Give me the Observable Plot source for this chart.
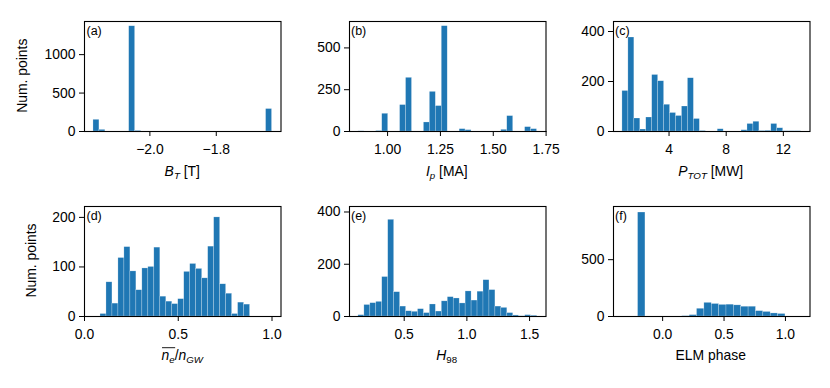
<!DOCTYPE html>
<html>
<head>
<meta charset="utf-8">
<script src="https://cdn.jsdelivr.net/npm/d3@7"></script>
<script src="https://cdn.jsdelivr.net/npm/@observablehq/plot@0.6"></script>
<style>
html, body { margin: 0; padding: 0; background: #fff; }
#chart { position: relative; width: 830px; height: 388px; overflow: hidden; background: #fff; }
#chart svg.plotpanel { position: absolute; }
#overlay { position: absolute; left: 0; top: 0; pointer-events: none; }
</style>
</head>
<body>
<div id="chart"></div>
<script>
// ---------------- DATA ----------------
// (a) toroidal field B_T [T] — 30 bins
const btRange = [-2.170, -1.632];
const btCounts = [152, 21, 0, 0, 0, 0, 1369, 8, 0, 0, 0, 0, 0, 0, 0, 0, 0, 0, 0, 0, 0, 0, 0, 0, 0, 0, 0, 0, 0, 292];
const btXDomain = [-2.197, -1.605];
const btYMax = 1431;
const btXTicks = [-2.0, -1.8];
const btYTicks = [0, 500, 1000];

// (b) plasma current I_p [MA] — 30 bins
const ipRange = [0.862, 1.707];
const ipCounts = [1, 0, 0, 3, 106, 0, 0, 158, 321, 0, 0, 54, 237, 152, 630, 0, 0, 14, 8, 0, 0, 0, 0, 0, 10, 92, 0, 0, 26, 14];
const ipXDomain = [0.8198, 1.7495];
const ipYMax = 658;
const ipXTicks = [1.00, 1.25, 1.50, 1.75];
const ipYTicks = [0, 250, 500];

// (c) total power P_TOT [MW] — 30 bins
const ptRange = [0.738, 13.24];
const ptCounts = [162, 376, 52, 8, 56, 226, 201, 107, 74, 62, 100, 213, 50, 2, 0, 0, 9, 0, 0, 0, 5, 30, 39, 2, 3, 30, 13, 1, 1, 1];
const ptXDomain = [0.113, 13.865];
const ptYMax = 440;
const ptXTicks = [4, 8, 12];
const ptYTicks = [0, 200, 400];

// (d) Greenwald fraction — 25 bins
const ngRange = [0.0852, 0.883];
const ngCounts = [5, 69, 26, 118, 140, 91, 53, 97, 100, 139, 40, 30, 25, 35, 90, 106, 96, 77, 141, 200, 65, 46, 5, 28, 24];
const ngXDomain = [0, 1.048];
const ngYMax = 222;
const ngXTicks = [0.0, 0.5, 1.0];
const ngYTicks = [0, 100, 200];

// (e) H98 — 30 bins
const hRange = [0.135, 1.560];
const hCounts = [5, 44, 51, 56, 151, 370, 93, 38, 20, 18, 28, 13, 46, 19, 58, 74, 69, 50, 96, 61, 95, 139, 101, 38, 33, 13, 4, 1, 5, 3];
const hXDomain = [0.0638, 1.631];
const hYMax = 421;
const hXTicks = [0.5, 1.0, 1.5];
const hYTicks = [0, 200, 400];

// (f) ELM phase — 20 bins
const elmRange = [-0.2, 1.0];
const elmCounts = [915, 0, 0, 0, 0, 0, 3, 12, 68, 120, 110, 102, 104, 98, 86, 86, 47, 40, 27, 22];
const elmXDomain = [-0.4, 1.2];
const elmYMax = 968;
const elmXTicks = [0.0, 0.5, 1.0];
const elmYTicks = [0, 500];

const panelLetters = ["(a)", "(b)", "(c)", "(d)", "(e)", "(f)"];
const yAxisLabel = "Num. points";

// ---------------- LAYOUT ----------------
const FONT = '"Liberation Sans", Arial, Helvetica, sans-serif';
const FS = 13.9;
const COLS = [84, 348.5, 612.5];
const ROWS = [20.7, 205.5];
const FW = 196.5, FH = 110;
const ML = 60, MR = 12, MT = 10, MB = 40;
const BLUE = "#1f77b4";

function toBins(range, counts) {
  const n = counts.length;
  const w = (range[1] - range[0]) / n;
  return counts.map((c, i) => ({x1: range[0] + i * w, x2: range[0] + (i + 1) * w, y: c}))
               .filter(d => d.y > 0);
}

const panels = [
  {range: btRange, counts: btCounts, xd: btXDomain, ymax: btYMax, xt: btXTicks, yt: btYTicks, xf: ".1f", col: 0, row: 0},
  {range: ipRange, counts: ipCounts, xd: ipXDomain, ymax: ipYMax, xt: ipXTicks, yt: ipYTicks, xf: ".2f", col: 1, row: 0},
  {range: ptRange, counts: ptCounts, xd: ptXDomain, ymax: ptYMax, xt: ptXTicks, yt: ptYTicks, xf: "d", col: 2, row: 0},
  {range: ngRange, counts: ngCounts, xd: ngXDomain, ymax: ngYMax, xt: ngXTicks, yt: ngYTicks, xf: ".1f", col: 0, row: 1},
  {range: hRange, counts: hCounts, xd: hXDomain, ymax: hYMax, xt: hXTicks, yt: hYTicks, xf: ".1f", col: 1, row: 1},
  {range: elmRange, counts: elmCounts, xd: elmXDomain, ymax: elmYMax, xt: elmXTicks, yt: elmYTicks, xf: ".1f", col: 2, row: 1}
];

const chart = document.getElementById("chart");

panels.forEach(p => {
  const svg = Plot.plot({
    width: ML + FW + MR,
    height: MT + FH + MB,
    marginLeft: ML, marginRight: MR, marginTop: MT, marginBottom: MB,
    style: {fontFamily: FONT, fontSize: FS + "px", color: "black", background: "transparent", overflow: "visible"},
    x: {domain: p.xd},
    y: {domain: [0, p.ymax]},
    marks: [
      Plot.rectY(toBins(p.range, p.counts), {
        x1: "x1", x2: "x2", y: "y", inset: 0,
        fill: BLUE, stroke: "white", strokeWidth: 0.5, strokeOpacity: 0.45
      }),
      Plot.axisX({ticks: p.xt, tickFormat: d3.format(p.xf), tickSize: 5, tickPadding: 7.5, label: null, fontSize: FS}),
      Plot.axisY({ticks: p.yt, tickFormat: d3.format("d"), tickSize: 5, tickPadding: 4, label: null, fontSize: FS}),
      Plot.frame({stroke: "black", strokeWidth: 1.1})
    ]
  });
  svg.classList.add("plotpanel");
  svg.style.left = (COLS[p.col] - ML) + "px";
  svg.style.top = (ROWS[p.row] - MT) + "px";
  svg.style.maxWidth = "none";
  chart.appendChild(svg);
});

// ---------------- TEXT OVERLAY ----------------
const ov = d3.select(chart).append("svg")
  .attr("id", "overlay").attr("width", 830).attr("height", 388)
  .style("font-family", FONT).style("font-size", FS + "px");

// panel letters
panels.forEach((p, i) => {
  ov.append("text").attr("x", COLS[p.col] + 2.5).attr("y", ROWS[p.row] + 14)
    .attr("font-size", 12.5).attr("fill", "black").text(panelLetters[i]);
});

// y labels
[[27, 0], [35.5, 1]].forEach(([bx, r]) => {
  ov.append("text")
    .attr("transform", `translate(${bx},${ROWS[r] + FH / 2}) rotate(-90)`)
    .attr("text-anchor", "middle").attr("fill", "black").text(yAxisLabel);
});

// x labels with math formatting
function mathLabel(cx, y, parts) {
  const t = ov.append("text").attr("x", cx).attr("y", y).attr("text-anchor", "middle").attr("fill", "black");
  let prevSub = false;
  parts.forEach(part => {
    const ts = t.append("tspan").text(part.t);
    if (part.i) ts.attr("font-style", "italic");
    if (part.sub) {
      ts.attr("font-size", FS * 0.7);
      if (!prevSub) ts.attr("dy", 3.2);
    } else if (prevSub) {
      ts.attr("dy", -3.2);
    }
    prevSub = !!part.sub;
  });
  return t;
}
const row1Y = 175.5, row2Y = 360;
const cxs = COLS.map(c => c + FW / 2);
mathLabel(cxs[0], row1Y, [{t: "B", i: 1}, {t: "T", i: 1, sub: 1}, {t: " [T]"}]);
mathLabel(cxs[1], row1Y, [{t: "I", i: 1}, {t: "p", i: 1, sub: 1}, {t: " [MA]"}]);
mathLabel(cxs[2], row1Y, [{t: "P", i: 1}, {t: "TOT", i: 1, sub: 1}, {t: " [MW]"}]);
const ngLab = mathLabel(cxs[0], row2Y, [{t: "n", i: 1}, {t: "e", i: 1, sub: 1}, {t: "/"}, {t: "n", i: 1}, {t: "GW", i: 1, sub: 1}]);
mathLabel(cxs[1], row2Y, [{t: "H", i: 1}, {t: "98", sub: 1}]);
mathLabel(cxs[2], row2Y, [{t: "ELM phase"}]);

// overline over n_e
{
  const node = ngLab.node();
  const x0 = node.getStartPositionOfChar(0).x;
  const x1 = node.getEndPositionOfChar(1).x;
  ov.append("line").attr("x1", x0 + 0.5).attr("x2", x1 + 0.5)
    .attr("y1", row2Y - 12.3).attr("y2", row2Y - 12.3)
    .attr("stroke", "black").attr("stroke-width", 0.9);
}
</script>
</body>
</html>
